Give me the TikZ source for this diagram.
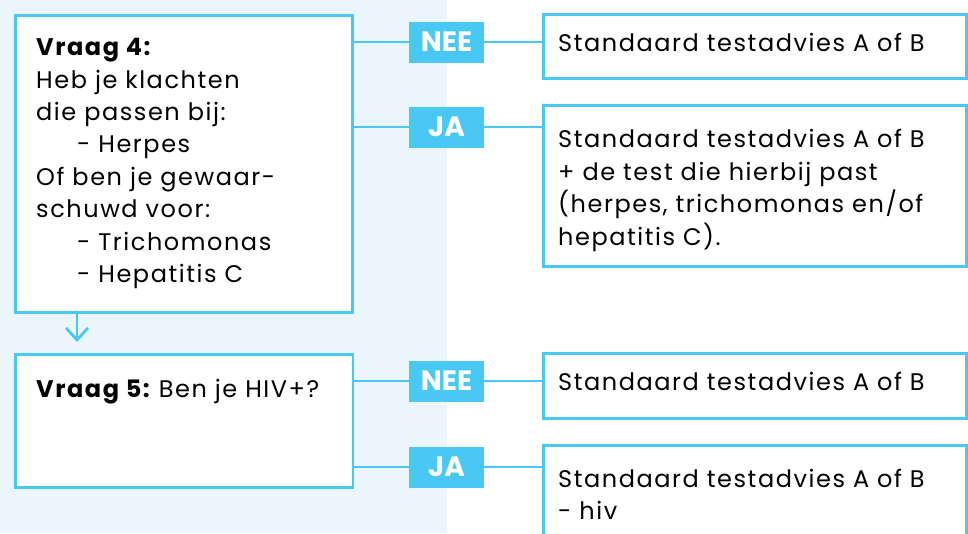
\documentclass[tikz,border=0pt]{standalone}
\usepackage{fontspec}
\setmainfont{Poppins}[LetterSpace=6.5]
\newfontfamily\labelfont{Poppins}
\usetikzlibrary{arrows.meta}

\definecolor{lijnblauw}{HTML}{48C8F2}
\definecolor{vlakblauw}{HTML}{EBF6FC}

\tikzset{
	vak/.style = {draw=lijnblauw, line width=2.8pt, fill=white, anchor=north west, inner sep=0pt},
	tekst/.style = {anchor=base west, align=left, inner sep=0pt, font=\fontsize{24}{32.4}\selectfont},
	antwoord/.style = {fill=lijnblauw, text=white, inner sep=0pt, minimum width=75pt, minimum height=41pt, font=\labelfont\fontsize{28}{28}\selectfont\bfseries},
	verbind/.style = {draw=lijnblauw, line width=2.8pt}
}

\begin{document}
\begin{tikzpicture}[x=1pt,y=-1pt]
	\clip (0,0) rectangle (968,533);
	\fill[vlakblauw] (0,0) rectangle (447,533);
	% vragen
		\node[vak, minimum width=337pt, minimum height=297pt] (V4) at (14,14) {};
		\node[vak, minimum width=337.5pt, minimum height=133pt] (V5) at (14,353) {};
	% adviezen
		\node[vak, minimum width=422.7pt, minimum height=64.3pt] (R1) at (542,13) {};
		\node[vak, minimum width=422.7pt, minimum height=160.4pt] (R2) at (542,104.3) {};
		\node[vak, minimum width=422.7pt, minimum height=65pt] (R3) at (542,352) {};
		\node[vak, minimum width=422.7pt, minimum height=120pt] (R4) at (542,443.7) {};
	% antwoorden
		\node[antwoord] (NEE1) at (446.5,42) {NEE};
		\node[antwoord] (JA1) at (446.5,127) {JA};
		\node[antwoord] (NEE2) at (446.5,381) {NEE};
		\node[antwoord] (JA2) at (446.5,467) {JA};
	% teksten (anker = basislijn van de laatste regel)
		\node[tekst] (T4) at (36,282.5) {\textbf{Vraag 4:}\\ Heb je klachten\\ die passen bij:\\ \hspace*{41pt}- Herpes\\ Of ben je gewaar-\\ schuwd voor:\\ \hspace*{41pt}- Trichomonas\\ \hspace*{41pt}- Hepatitis C};
		\node[tekst] (T5) at (36,397) {\textbf{Vraag 5:}\hspace{-3pt} Ben je HIV+?};
		\node[tekst] (A1) at (558,51) {Standaard testadvies A of B};
		\node[tekst] (A2) at (558,245) {Standaard testadvies A of B\\ + de test die hierbij past\\ (herpes, trichomonas en/of\\ hepatitis C).};
		\node[tekst] (A3) at (558,390) {Standaard testadvies A of B};
		\node[tekst] (A4) at (558,519.5) {Standaard testadvies A of B\\ - hiv};
	% lijnen
		\draw[verbind] (V4.east |- NEE1) -- (NEE1) -- (R1.west |- NEE1);
		\draw[verbind] (V4.east |- JA1) -- (JA1) -- (R2.west |- JA1);
		\draw[verbind] (V5.east |- NEE2) -- (NEE2) -- (R3.west |- NEE2);
		\draw[verbind] (V5.east |- JA2) -- (JA2) -- (R4.west |- JA2);
		\coordinate (pijl) at (77,342);
		\draw[verbind, -{Straight Barb[length=12pt, width=22pt]}] (V4.south -| pijl) -- (pijl);
	\end{tikzpicture}
\end{document}
